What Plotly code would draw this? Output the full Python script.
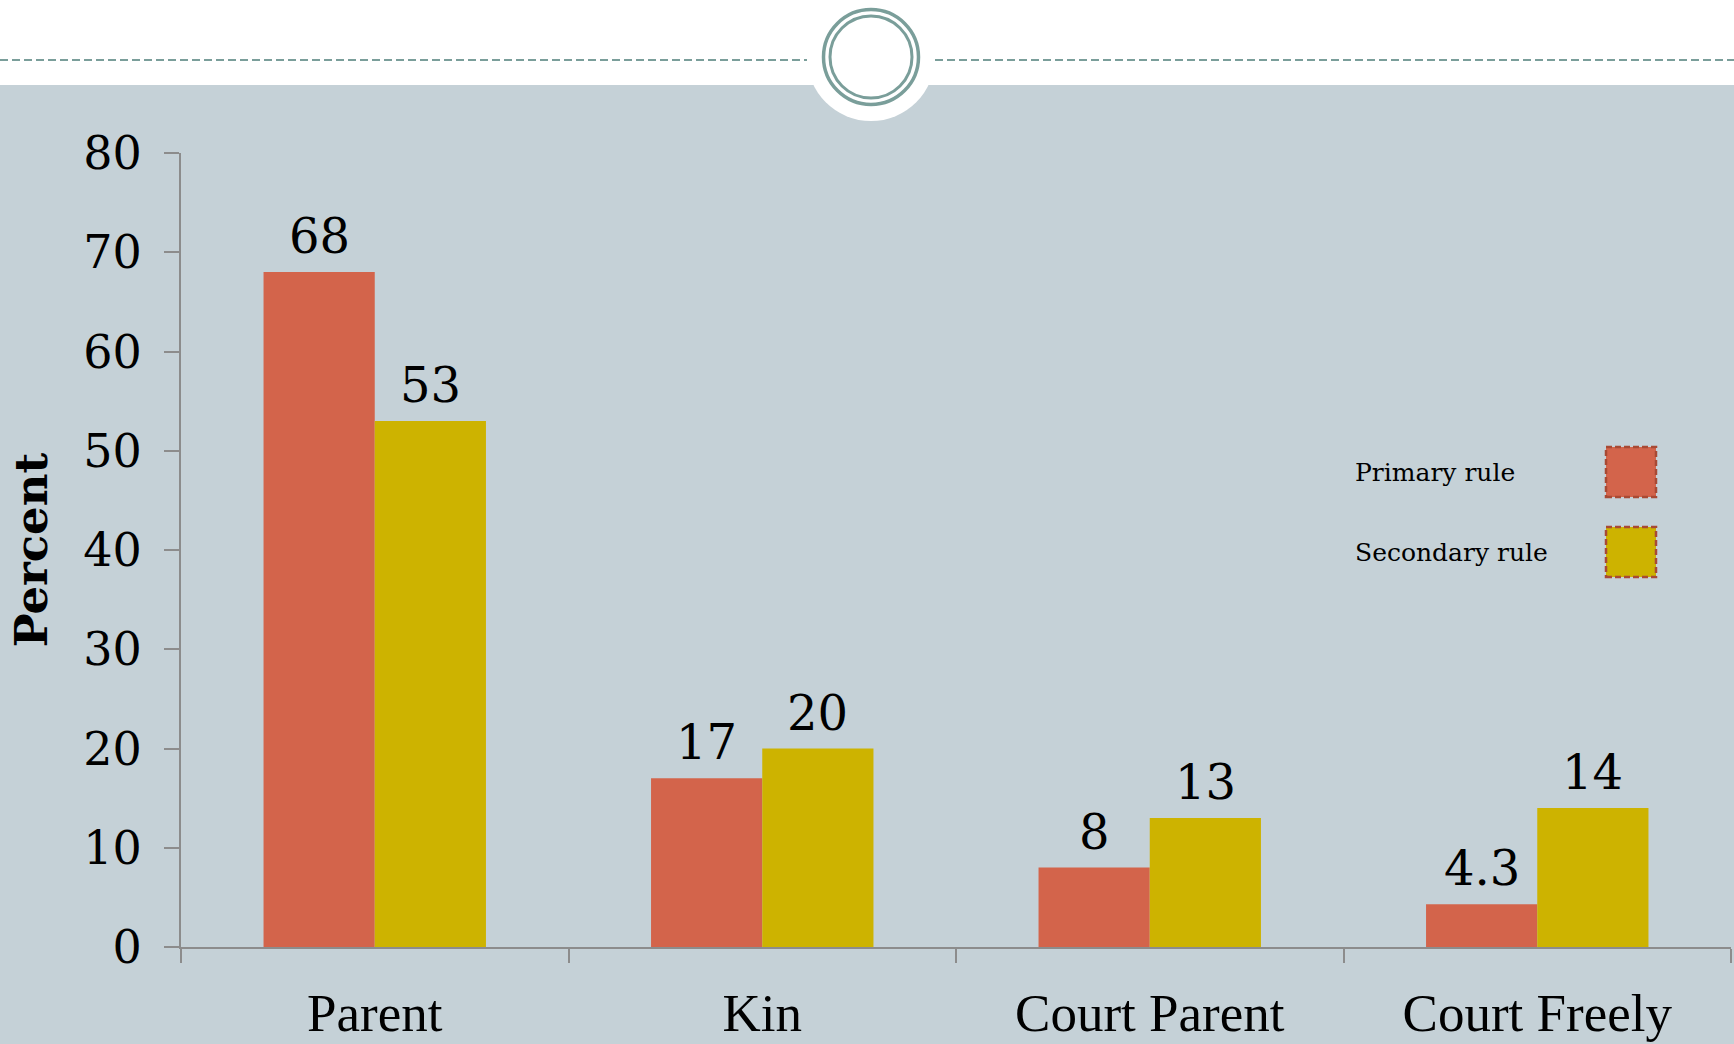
import plotly.graph_objects as go

categories = ["Parent", "Kin", "Court Parent", "Court Freely"]
primary = [68, 17, 8, 4.3]
secondary = [53, 20, 13, 14]
series_names = ["Primary rule", "Secondary rule"]
y_ticks = [0, 10, 20, 30, 40, 50, 60, 70, 80]

RED = "#D3644B"
YEL = "#CDB300"
BG = "#C5D1D7"
RING = "#7A9E9A"
AXIS = "#8C8C8C"
TXT = "#000000"

W, H = 1734, 1044
ML, MR, MT, MB = 181, 3, 153, 97
PW, PH = W - ML - MR, H - MT - MB


def px_x(x):
    return (x - ML) / PW


def px_y(y):
    return (H - MB - y) / PH


fig = go.Figure()
fig.add_trace(go.Bar(x=categories, y=primary, name=series_names[0],
                     marker=dict(color=RED, line=dict(width=0)), showlegend=False))
fig.add_trace(go.Bar(x=categories, y=secondary, name=series_names[1],
                     marker=dict(color=YEL, line=dict(width=0)), showlegend=False))

annotations = []
for vals, shift in ((primary, -55.5), (secondary, 55.5)):
    for c, v in zip(categories, vals):
        annotations.append(dict(
            x=c, y=v, xref="x", yref="y", text=f"{v:g}", showarrow=False,
            xanchor="center", yanchor="bottom", xshift=shift, yshift=6,
            font=dict(family="DejaVu Serif", size=48, color=TXT)))

# custom legend (text left, swatch right)
leg_y = [472, 552]
for name, col, yc in zip(series_names, [RED, YEL], leg_y):
    annotations.append(dict(
        x=px_x(1353), y=px_y(yc), xref="paper", yref="paper", text=name,
        showarrow=False, xanchor="left", yanchor="middle",
        font=dict(family="DejaVu Serif", size=25, color=TXT)))

shapes = [
    # white header band
    dict(type="rect", xref="paper", yref="paper", x0=px_x(-5), x1=px_x(W + 5),
         y0=px_y(85), y1=px_y(-5), fillcolor="white", line=dict(width=0), layer="below"),
    # dashed line left/right
    dict(type="line", xref="paper", yref="paper", x0=px_x(0), x1=px_x(807),
         y0=px_y(60), y1=px_y(60), line=dict(color=RING, width=2, dash="8px,4px"), layer="below"),
    dict(type="line", xref="paper", yref="paper", x0=px_x(935), x1=px_x(W),
         y0=px_y(60), y1=px_y(60), line=dict(color=RING, width=2, dash="8px,4px"), layer="below"),
    # white circle
    dict(type="circle", xref="paper", yref="paper", x0=px_x(871 - 64), x1=px_x(871 + 64),
         y0=px_y(57 + 64), y1=px_y(57 - 64), fillcolor="white", line=dict(width=0), layer="below"),
    # rings
    dict(type="circle", xref="paper", yref="paper", x0=px_x(871 - 47.5), x1=px_x(871 + 47.5),
         y0=px_y(57 + 47.5), y1=px_y(57 - 47.5), line=dict(color=RING, width=3.5), layer="below"),
    dict(type="circle", xref="paper", yref="paper", x0=px_x(871 - 41), x1=px_x(871 + 41),
         y0=px_y(57 + 41), y1=px_y(57 - 41), line=dict(color=RING, width=3), layer="below"),
]
for col, yc in zip([RED, YEL], leg_y):
    shapes.append(dict(type="rect", xref="paper", yref="paper",
                       x0=px_x(1606), x1=px_x(1656), y0=px_y(yc + 25), y1=px_y(yc - 25),
                       fillcolor=col, line=dict(color="#A84A34", width=2.5, dash="6px,3px")))

fig.update_layout(
    width=W, height=H,
    margin=dict(l=ML, r=MR, t=MT, b=MB, autoexpand=False),
    paper_bgcolor=BG, plot_bgcolor="rgba(0,0,0,0)",
    barmode="group", bargap=0.426, bargroupgap=0,
    annotations=annotations, shapes=shapes,
    font=dict(family="DejaVu Serif", color=TXT),
)
fig.update_xaxes(
    showline=True, linecolor=AXIS, linewidth=2, showgrid=False, zeroline=False,
    ticks="outside", tickson="boundaries", ticklen=14, tickwidth=2, tickcolor=AXIS,
    tickfont=dict(family="Liberation Serif", size=53, color=TXT),
    ticklabelstandoff=18, automargin=False,
)
fig.update_yaxes(
    range=[0, 80], tickvals=y_ticks, showline=True, linecolor=AXIS, linewidth=2,
    showgrid=False, zeroline=False, ticks="outside", ticklen=15, tickwidth=2, tickcolor=AXIS,
    tickfont=dict(family="DejaVu Serif", size=46, color=TXT),
    ticklabelstandoff=13, automargin=False,
    title=dict(text="<b>Percent</b>", standoff=22,
               font=dict(family="DejaVu Serif", size=45, color=TXT)),
)

fig.write_html("out.html", config={"displayModeBar": False},
               post_script="document.body.style.margin='0px';document.body.style.overflow='hidden';")
